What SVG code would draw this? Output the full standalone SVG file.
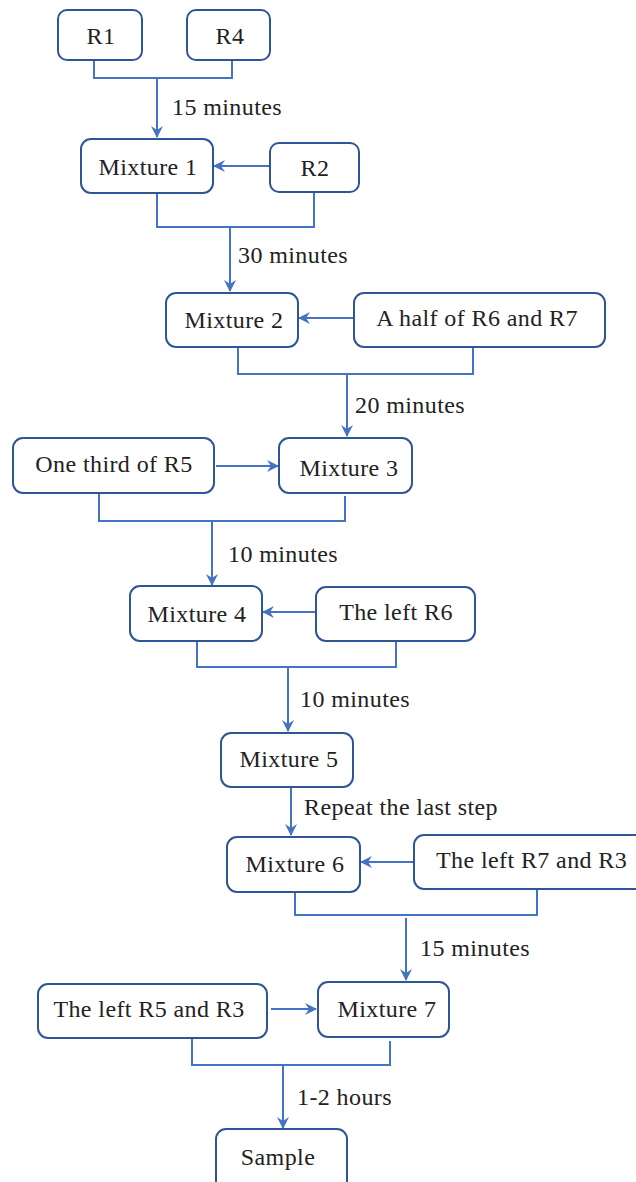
<svg xmlns="http://www.w3.org/2000/svg" width="636" height="1182" viewBox="0 0 636 1182">
<style>
.box{fill:#fff;stroke:#2F5597;stroke-width:2}
.t{font-family:"Liberation Serif","Times New Roman",serif;font-size:24px;fill:#222;letter-spacing:0.4px}
.m{text-anchor:middle}
.c{fill:none;stroke:#4472C4;stroke-width:2}
.a{fill:none;stroke:#4472C4;stroke-width:2;marker-end:url(#ah)}
</style>
<defs>
<marker id="ah" viewBox="0 0 12 12" refX="11" refY="6" markerWidth="12" markerHeight="12" markerUnits="userSpaceOnUse" orient="auto">
<path d="M0,0 L12,6 L0,12 L4,6 z" fill="#4472C4"/>
</marker>
</defs>
<rect width="636" height="1182" fill="#fff"/>
<g id="connectors">
<path class="c" d="M94,59 V78 H232 V59"/>
<path class="a" d="M157,78 V137"/>
<path class="a" d="M270,166 H214"/>
<path class="c" d="M157,193 V227 H314 V192"/>
<path class="a" d="M230,227 V291"/>
<path class="a" d="M354,318 H299"/>
<path class="c" d="M238,347 V374 H473 V347"/>
<path class="a" d="M347,374 V436"/>
<path class="a" d="M216,466 H278"/>
<path class="c" d="M99,493 V521 H345 V496"/>
<path class="a" d="M212,521 V585"/>
<path class="a" d="M316,612 H263"/>
<path class="c" d="M197,641 V667 H396 V641"/>
<path class="a" d="M288,667 V731"/>
<path class="a" d="M291,787 V835"/>
<path class="a" d="M414,862 H361"/>
<path class="c" d="M295,892 V915 H537 V889"/>
<path class="a" d="M406,918 V980"/>
<path class="a" d="M271,1009 H316"/>
<path class="c" d="M192,1038 V1065 H390 V1041"/>
<path class="a" d="M283,1065 V1128"/>
</g>
<g id="labels">
<text class="t" x="172" y="115">15 minutes</text>
<text class="t" x="238" y="263">30 minutes</text>
<text class="t" x="355" y="413">20 minutes</text>
<text class="t" x="228" y="562">10 minutes</text>
<text class="t" x="300" y="707">10 minutes</text>
<text class="t" x="304" y="815">Repeat the last step</text>
<text class="t" x="420" y="956">15 minutes</text>
<text class="t" x="297" y="1105">1-2 hours</text>
</g>
<g id="n-r1"><rect class="box" x="58" y="10" width="84" height="50" rx="9"/><text class="t m" x="101" y="44">R1</text></g>
<g id="n-r4"><rect class="box" x="187" y="10" width="83" height="50" rx="9"/><text class="t m" x="230" y="44">R4</text></g>
<g id="n-mix1"><rect class="box" x="81" y="139" width="132" height="54" rx="10"/><text class="t m" x="148" y="175">Mixture 1</text></g>
<g id="n-r2"><rect class="box" x="270" y="143" width="89" height="49" rx="9"/><text class="t m" x="315" y="176">R2</text></g>
<g id="n-mix2"><rect class="box" x="166" y="293" width="132" height="54" rx="10"/><text class="t m" x="234" y="328">Mixture 2</text></g>
<g id="n-half"><rect class="box" x="354" y="293" width="251" height="54" rx="10"/><text class="t m" x="477" y="326">A half of R6 and R7</text></g>
<g id="n-third"><rect class="box" x="13" y="438" width="201" height="55" rx="10"/><text class="t m" x="114" y="472">One third of R5</text></g>
<g id="n-mix3"><rect class="box" x="279" y="438" width="133" height="55" rx="10"/><text class="t m" x="349" y="476">Mixture 3</text></g>
<g id="n-mix4"><rect class="box" x="130" y="586" width="132" height="55" rx="10"/><text class="t m" x="197" y="622">Mixture 4</text></g>
<g id="n-leftr6"><rect class="box" x="316" y="587" width="159" height="54" rx="10"/><text class="t m" x="396" y="620">The left R6</text></g>
<g id="n-mix5"><rect class="box" x="221" y="733" width="132" height="54" rx="10"/><text class="t m" x="289" y="767">Mixture 5</text></g>
<g id="n-mix6"><rect class="box" x="227" y="837" width="133" height="55" rx="10"/><text class="t m" x="295" y="872">Mixture 6</text></g>
<g id="n-leftr7"><rect class="box" x="414" y="835" width="240" height="54" rx="10"/><text class="t" x="436" y="868">The left R7 and R3</text></g>
<g id="n-leftr5"><rect class="box" x="38" y="984" width="229" height="54" rx="10"/><text class="t m" x="149" y="1017">The left R5 and R3</text></g>
<g id="n-mix7"><rect class="box" x="318" y="982" width="131" height="55" rx="10"/><text class="t m" x="387" y="1017">Mixture 7</text></g>
<g id="n-sample"><rect class="box" x="216" y="1129" width="131" height="62" rx="10"/><text class="t m" x="278" y="1165">Sample</text></g>
</svg>
